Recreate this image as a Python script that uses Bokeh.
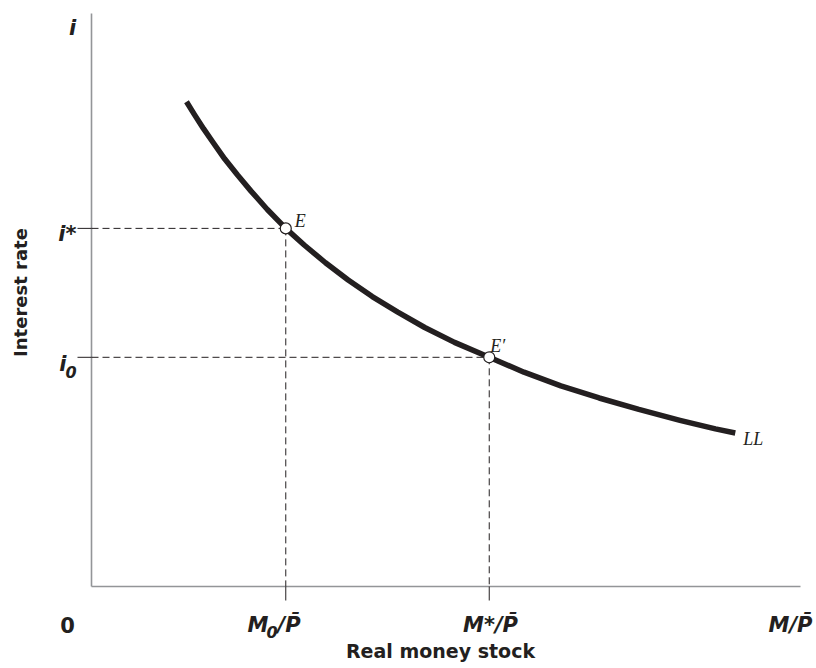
from bokeh.plotting import figure
from bokeh.models import Range1d
from bokeh.core.properties import value
from bokeh.embed import file_html
from bokeh.resources import INLINE

# ---- data (axis units: both axes run 0..10) ----
curve_x = [1.34, 1.45, 1.58, 1.72, 1.88, 2.06, 2.25, 2.48, 2.74, 3.00, 3.30, 3.62,
           3.96, 4.32, 4.70, 5.12, 5.61, 6.10, 6.62, 7.16, 7.72, 8.30, 8.80, 9.08]
curve_y = [8.46, 8.24, 7.99, 7.74, 7.46, 7.18, 6.90, 6.58, 6.25, 5.96, 5.65, 5.35,
           5.06, 4.79, 4.52, 4.26, 4.00, 3.74, 3.50, 3.29, 3.09, 2.90, 2.75, 2.68]
eq_x = [2.74, 5.61]          # M0/P, M*/P
eq_y = [6.25, 4.00]          # i*, i0
eq_names = ["E", "E\u2032"]
axis_max = 10.0
curve_name = "LL"
x_title = "Real money stock"
y_title = "Interest rate"

# ---- pixel <-> data helpers (image pixel coordinates) ----
X0, XS = 91.0, 70.9     # image x of data 0, px per unit
Y0, YS = 586.0, 57.3    # image y of data 0, px per unit
W, H = 816, 668


def dx(px):
    return (px - X0) / XS


def dy(py):
    return (Y0 - py) / YS


p = figure(width=W, height=H, x_range=Range1d(dx(0), dx(W)), y_range=Range1d(dy(H), dy(0)),
           x_axis_type=None, y_axis_type=None, min_border=0,
           toolbar_location=None, output_backend="svg")
p.outline_line_color = None
p.background_fill_color = "white"

INK = "#231f20"
AXIS = "#939598"

# axes
p.segment(x0=[0, 0], y0=[0, 0], x1=[0, axis_max], y1=[axis_max, 0],
          line_color=AXIS, line_width=1.6)

# dashed guides
tick_x = 14 / XS
tick_y = 14 / YS
p.segment(x0=[0, 0], y0=eq_y, x1=eq_x, y1=eq_y, line_color=INK, line_width=1,
          line_dash="7 4")
p.segment(x0=eq_x, y0=eq_y, x1=eq_x, y1=[0, 0], line_color=INK, line_width=1,
          line_dash="7 4")
# solid ticks
p.segment(x0=[-tick_x, -tick_x], y0=eq_y, x1=[0, 0], y1=eq_y, line_color=INK, line_width=1)
p.segment(x0=eq_x, y0=[0, 0], x1=eq_x, y1=[-tick_y, -tick_y], line_color=INK, line_width=1)

# LL curve
p.line(curve_x, curve_y, line_color=INK, line_width=5.5, line_join="round", line_cap="butt")

# equilibrium points
p.scatter(eq_x, eq_y, size=11, marker="circle", fill_color="white",
          line_color=INK, line_width=1.2)

sans = value("DejaVu Sans")
serif = value("Liberation Serif")


def txt(x, y, s, size, font=sans, style="bold italic", align="left",
        baseline="alphabetic", angle=0.0):
    p.text(x=[x], y=[y], text=[s], text_font=font, text_font_size=f"{size}px",
           text_font_style=style, text_color=INK, text_align=align,
           text_baseline=baseline, angle=angle)


# y axis symbols
txt(dx(72), dy(27), "i", 21, align="center")
txt(dx(76), dy(233), "i*", 21, align="right")
txt(dx(66), dy(363), "i", 21, align="right")
txt(dx(65), dy(371), "0", 16, align="left")

# x axis symbols
txt(dx(67), dy(624), "0", 21, style="bold", align="center")
txt(dx(268), dy(624), "M", 21, align="right")
txt(dx(266), dy(631), "0", 16, align="left")
txt(dx(277), dy(624), "/P\u0304", 21, align="left")
txt(dx(490), dy(624), "M*/P\u0304", 21, align="center")
txt(dx(812), dy(624), "M/P\u0304", 21, align="right")

# titles
txt(dx(440), dy(650), x_title, 19, style="bold", align="center", baseline="middle")
txt(dx(20), dy(292), y_title, 18, style="bold", align="center", baseline="middle",
    angle=1.5707963)

# point / curve labels (offsets from the marks, in pixels)
txt(eq_x[0] + 9 / XS, eq_y[0] + 7 / YS, eq_names[0], 18, font=serif, style="italic")
txt(eq_x[1] + 1 / XS, eq_y[1] + 11 / YS, eq_names[1], 18, font=serif, style="italic")
txt(curve_x[-1] + 8 / XS, curve_y[-1] - 6 / YS, curve_name, 18, font=serif, style="italic")

open("out.html", "w").write(file_html(p, INLINE))
